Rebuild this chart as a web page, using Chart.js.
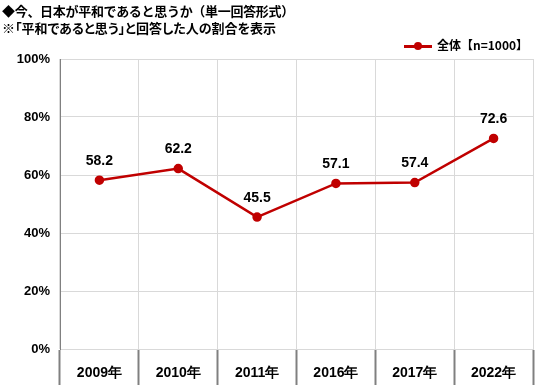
<!DOCTYPE html>
<html>
<head>
<meta charset="utf-8">
<script src="https://cdn.jsdelivr.net/npm/chart.js@4"></script>
<style>
  body { margin: 0; background: #fff; }
  #wrap { position: relative; width: 550px; height: 385px; }
  .ttl { position: absolute; left: 2px; font: bold 13px "Noto Sans CJK JP", sans-serif; color: #000; white-space: nowrap; }
  .palt { font-feature-settings: "palt"; }
  #legend { position: absolute; left: 404px; top: 36px; font: bold 12px "Noto Sans CJK JP", sans-serif; color: #000; white-space: nowrap; }
  #legend .ln { display: inline-block; position: relative; width: 28px; height: 3px; background: #c00000; vertical-align: middle; margin-right: 5px; }
  #legend .ln::after { content: ""; position: absolute; left: 10px; top: -3px; width: 8px; height: 8px; border-radius: 50%; background: #c00000; }
</style>
</head>
<body>
<div id="wrap">
  <div class="ttl" style="top:1px; letter-spacing:-0.3px">◆今、日本が平和であると思うか（単一回答形式）</div>
  <div class="ttl palt" style="top:18px">※「平和であると思う」と回答した人の割合を表示</div>
  <div id="legend"><span class="ln"></span>全体【n=1000】</div>
  <canvas id="chart" width="550" height="385"></canvas>
</div>
<script>
// データ
const years = ['2009年', '2010年', '2011年', '2016年', '2017年', '2022年'];
const peaceRate = [58.2, 62.2, 45.5, 57.1, 57.4, 72.6];
const yTicks = [0, 20, 40, 60, 80, 100];

const lineRed = '#c00000';
const labelFont = '"Liberation Sans", Arial, sans-serif';

// 値ラベルを点の上に描く
const valueLabels = {
  id: 'valueLabels',
  afterDatasetsDraw(chart) {
    const ctx = chart.ctx;
    const meta = chart.getDatasetMeta(0);
    ctx.save();
    ctx.font = 'bold 14px ' + labelFont;
    ctx.fillStyle = '#000';
    ctx.textAlign = 'center';
    ctx.textBaseline = 'middle';
    meta.data.forEach((pt, i) => {
      ctx.fillText(peaceRate[i].toFixed(1), pt.x, pt.y - 19);
    });
    ctx.restore();
  }
};

new Chart(document.getElementById('chart'), {
  type: 'line',
  data: {
    labels: years,
    datasets: [{
      label: '全体【n=1000】',
      data: peaceRate,
      borderColor: lineRed,
      backgroundColor: lineRed,
      borderWidth: 2.5,
      pointRadius: 3.5,
      pointHoverRadius: 3.5,
      tension: 0
    }]
  },
  options: {
    responsive: false,
    animation: false,
    layout: { padding: { top: 59, right: 17, left: 0, bottom: 0 } },
    plugins: {
      legend: { display: false },
      tooltip: { enabled: false }
    },
    scales: {
      x: {
        offset: true,
        afterFit(scale) { scale.height = 36; },
        grid: {
          offset: true,
          color: '#d9d9d9',
          tickColor: '#808080',
          tickLength: 36,
          tickWidth: 2
        },
        border: { color: '#d9d9d9' },
        ticks: {
          padding: -20,
          color: '#000',
          font: { family: labelFont, size: 14, weight: 'bold' }
        }
      },
      y: {
        min: 0,
        max: 100,
        afterFit(scale) { scale.width = 60; },
        afterBuildTicks(scale) { scale.ticks = yTicks.map(v => ({ value: v })); },
        grid: { color: '#d9d9d9', drawTicks: false },
        border: { color: '#808080', width: 1 },
        ticks: {
          padding: 10,
          color: '#000',
          font: { family: labelFont, size: 13, weight: 'bold' },
          callback: v => v + '%'
        }
      }
    }
  },
  plugins: [valueLabels]
});
</script>
</body>
</html>
